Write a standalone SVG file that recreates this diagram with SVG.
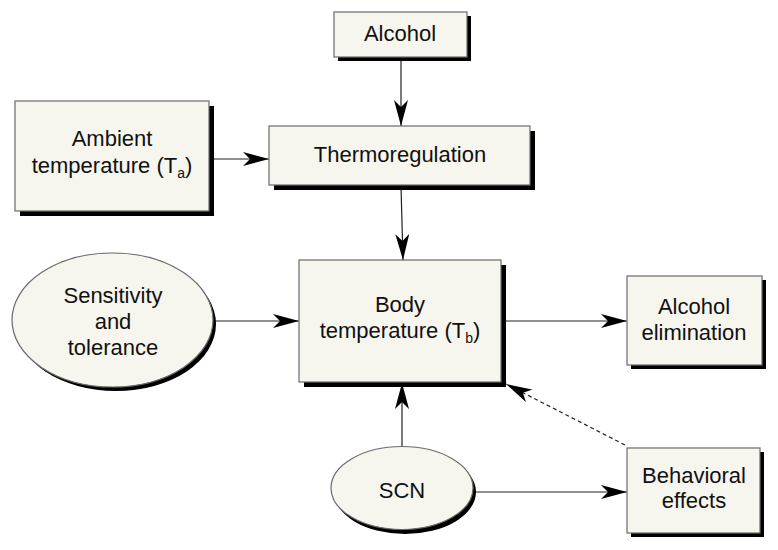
<svg xmlns="http://www.w3.org/2000/svg" width="778" height="550" viewBox="0 0 778 550">
<defs>
<style>
.box{fill:#f7f6ee;stroke:#6b6b6b;stroke-width:1.2}
.sh{fill:#000}
.t{font-family:"Liberation Sans",Arial,sans-serif;font-size:22px;fill:#111;text-anchor:middle}
.sub{font-size:14px}
.ln{stroke:#222;stroke-width:1.2;fill:none}
.dash{stroke-dasharray:4 3}
</style>
<marker id="ah" markerUnits="userSpaceOnUse" markerWidth="26" markerHeight="14" viewBox="0 0 26 14" refX="26" refY="7" orient="auto">
<path d="M0,0 L26,7 L0,14 L7,7 z" fill="#000"/>
</marker>
</defs>
<rect width="778" height="550" fill="#fff"/>
<g id="connectors">
<line class="ln" x1="401" y1="58" x2="401" y2="126" marker-end="url(#ah)"/>
<line class="ln" x1="210" y1="159" x2="269" y2="159" marker-end="url(#ah)"/>
<line class="ln" x1="401" y1="186" x2="403" y2="260" marker-end="url(#ah)"/>
<line class="ln" x1="213" y1="321" x2="299" y2="321" marker-end="url(#ah)"/>
<line class="ln" x1="502" y1="321" x2="627" y2="321" marker-end="url(#ah)"/>
<line class="ln" x1="402" y1="447" x2="402" y2="383" marker-end="url(#ah)"/>
<line class="ln" x1="474" y1="492" x2="627" y2="492" marker-end="url(#ah)"/>
<line class="ln dash" x1="625" y1="445" x2="506" y2="384" marker-end="url(#ah)"/>
</g>
<g id="alcohol">
<rect class="sh" x="338" y="16" width="133" height="45"/>
<rect class="box" x="334" y="12" width="133" height="45"/>
<text class="t" x="400" y="41">Alcohol</text>
</g>
<g id="ambient">
<rect class="sh" x="20" y="106" width="194" height="110"/>
<rect class="box" x="15" y="101" width="194" height="110"/>
<text class="t" x="112" y="146">Ambient</text>
<text class="t" x="112" y="173">temperature (T<tspan class="sub" dy="5">a</tspan><tspan dy="-5">)</tspan></text>
</g>
<g id="thermoregulation">
<rect class="sh" x="274" y="131" width="261" height="59"/>
<rect class="box" x="269" y="126" width="261" height="59"/>
<text class="t" x="400" y="162">Thermoregulation</text>
</g>
<g id="sensitivity">
<ellipse class="sh" cx="116" cy="324" rx="100" ry="67"/>
<ellipse class="box" cx="112.5" cy="320" rx="100.5" ry="67"/>
<text class="t" x="113" y="303">Sensitivity</text>
<text class="t" x="113" y="329">and</text>
<text class="t" x="113" y="355">tolerance</text>
</g>
<g id="body">
<rect class="sh" x="304" y="265" width="202" height="122"/>
<rect class="box" x="299" y="260" width="202" height="122"/>
<text class="t" x="400" y="312">Body</text>
<text class="t" x="400" y="338">temperature (T<tspan class="sub" dy="5">b</tspan><tspan dy="-5">)</tspan></text>
</g>
<g id="elimination">
<rect class="sh" x="631" y="280" width="135" height="89"/>
<rect class="box" x="627" y="276" width="135" height="89"/>
<text class="t" x="694" y="314">Alcohol</text>
<text class="t" x="694" y="340">elimination</text>
</g>
<g id="scn">
<ellipse class="sh" cx="405" cy="492" rx="71" ry="42"/>
<ellipse class="box" cx="402" cy="488" rx="71" ry="41.5"/>
<text class="t" x="402" y="498">SCN</text>
</g>
<g id="behavioral">
<rect class="sh" x="631" y="452" width="133" height="85"/>
<rect class="box" x="627" y="448" width="133" height="85"/>
<text class="t" x="694" y="483">Behavioral</text>
<text class="t" x="694" y="508">effects</text>
</g>
</svg>
